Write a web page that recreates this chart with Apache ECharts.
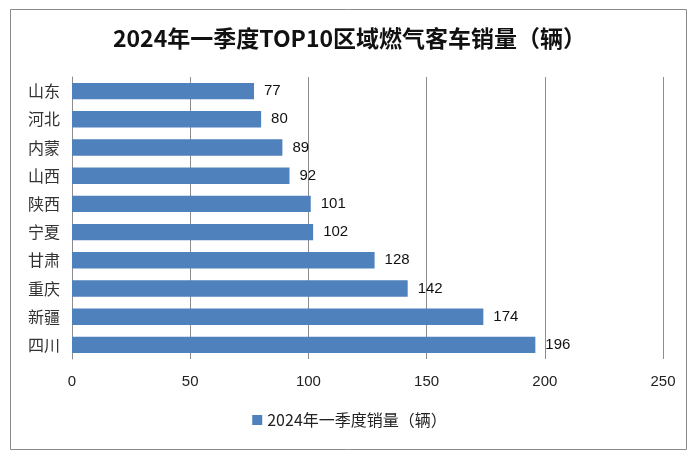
<!DOCTYPE html>
<html><head><meta charset="utf-8">
<script src="https://cdn.jsdelivr.net/npm/echarts@6/dist/echarts.min.js"></script>
<style>html,body{margin:0;padding:0;background:#fff}#c{width:699px;height:463px}</style>
</head><body><div id="c"></div>
<script>
const categories = ['山东','河北','内蒙','山西','陕西','宁夏','甘肃','重庆','新疆','四川'];
const values = [77,80,89,92,101,102,128,142,174,196];
const seriesName = '2024年一季度销量（辆）';
const titleText = '2024年一季度TOP10区域燃气客车销量（辆）';

const chart = echarts.init(document.getElementById('c'));
chart.setOption({
  animation:false,
  backgroundColor:'#fff',
  graphic:[{type:'rect',shape:{x:10.5,y:9.5,width:676,height:440},style:{fill:'none',stroke:'#8a8a8a',lineWidth:1},z:-1}],
  title:{text:titleText,left:'center',top:22,textStyle:{fontFamily:'Noto Sans CJK SC',fontWeight:'bold',fontSize:23,color:'#111'}},
  legend:{bottom:30,left:'center',itemWidth:10,itemHeight:10,icon:'rect',itemGap:5,textStyle:{fontFamily:'Noto Sans CJK SC',fontSize:16,color:'#222'},data:[seriesName]},
  grid:{left:72,right:36,top:77,bottom:104,containLabel:false},
  xAxis:{type:'value',min:0,max:250,interval:50,
    axisLine:{show:false},axisTick:{show:false},
    axisLabel:{margin:15,fontFamily:'Liberation Sans',fontSize:15,color:'#222'},
    splitLine:{show:true,lineStyle:{color:'#8c8c8c',width:1}}},
  yAxis:{type:'category',data:categories,inverse:true,
    axisLine:{show:true,lineStyle:{color:'#8c8c8c'}},axisTick:{show:false},
    axisLabel:{margin:12,fontFamily:'Noto Sans CJK SC',fontSize:16,color:'#333'}},
  series:[{name:seriesName,type:'bar',data:values,barCategoryGap:'42%',
    itemStyle:{color:'#4F81BD'},
    label:{show:true,position:'right',distance:10,fontFamily:'Liberation Sans',fontSize:15,color:'#111'}}]
});
</script></body></html>
